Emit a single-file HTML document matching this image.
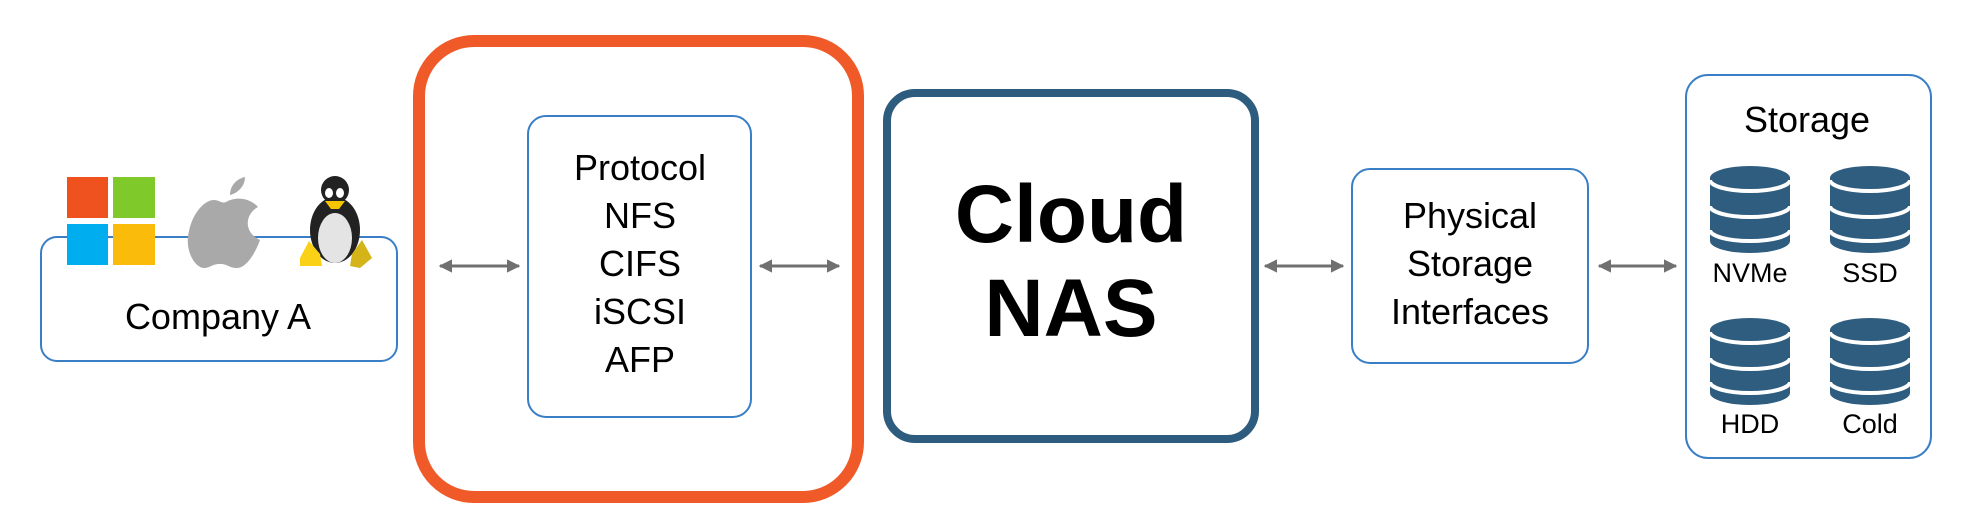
<!DOCTYPE html>
<html><head><meta charset="utf-8"><style>
html,body{margin:0;padding:0;background:#fff;}
svg{display:block}
text{font-family:"Liberation Sans",sans-serif;fill:#000}
</style></head><body>
<svg width="1971" height="532" viewBox="0 0 1971 532" xmlns="http://www.w3.org/2000/svg">
<defs>
<marker id="ah" viewBox="0 0 10 10" refX="9" refY="5" markerWidth="4.5" markerHeight="5" orient="auto-start-reverse"><path d="M0,0 L10,5 L0,10 z" fill="#707070"/></marker>
<g id="cyl">
<path d="M0,12 A40,12 0 0 1 80,12 L80,75 A40,12 0 0 1 0,75 Z" fill="#2f5d80"/>
<path d="M0,14 A40,11 0 0 0 80,14" fill="none" stroke="#fff" stroke-width="4"/>
<path d="M0,40 A40,11 0 0 0 80,40" fill="none" stroke="#fff" stroke-width="4"/>
<path d="M0,64 A40,11 0 0 0 80,64" fill="none" stroke="#fff" stroke-width="4"/>
</g>
</defs>

<!-- Company A -->
<rect x="41" y="237" width="356" height="124" rx="16" fill="#fff" stroke="#3a7fc6" stroke-width="2"/>
<rect x="67" y="177" width="41" height="41" fill="#f0521f"/>
<rect x="113" y="177" width="42" height="41" fill="#7fc92a"/>
<rect x="67" y="224" width="41" height="41" fill="#00adef"/>
<rect x="113" y="224" width="42" height="41" fill="#fbbb0b"/>
<!-- apple -->
<g fill="#a9a9a9">
<path d="M226,202 C236,196 250,198 258,207 C245,214 243,232 260,240 C255,254 246,268 237,268 C229,268 228,264 220,264 C212,264 210,268 204,268 C195,268 184,250 189,231 C193,212 205,200 214,200 C219,200 222,204 226,202 Z"/>
<path d="M230,195 C230,186 236,179 245,177 C245,186 238,193 230,195 Z"/>
</g>
<!-- tux -->
<g>
<ellipse cx="335" cy="230" rx="25" ry="33" fill="#222"/>
<ellipse cx="335" cy="190" rx="14" ry="14" fill="#222"/>
<ellipse cx="335" cy="238" rx="17" ry="25" fill="#e4e4e4"/>
<ellipse cx="329" cy="193" rx="4" ry="5" fill="#fff"/><ellipse cx="340" cy="193" rx="4" ry="5" fill="#fff"/>
<path d="M325,201 L345,201 L339,209 L331,209 Z" fill="#f6c500"/>
<path d="M300,258 L309,241 L320,254 L322,266 L300,266 Z" fill="#fbd117"/>
<path d="M352,254 L362,240 L372,258 L360,268 L350,266 Z" fill="#d4b418"/>
</g>
<text x="218" y="329" font-size="36" text-anchor="middle">Company A</text>

<!-- orange -->
<rect x="419" y="41" width="439" height="456" rx="55" fill="none" stroke="#f05a28" stroke-width="12"/>
<rect x="528" y="116" width="223" height="301" rx="18" fill="#fff" stroke="#3a7fc6" stroke-width="2"/>
<g font-size="36" text-anchor="middle">
<text x="640" y="180">Protocol</text>
<text x="640" y="228">NFS</text>
<text x="640" y="276">CIFS</text>
<text x="640" y="324">iSCSI</text>
<text x="640" y="372">AFP</text>
</g>

<!-- Cloud NAS -->
<rect x="887" y="93" width="368" height="346" rx="28" fill="#fff" stroke="#2d5c7f" stroke-width="8"/>
<g font-size="82" font-weight="bold" text-anchor="middle">
<text x="1071" y="242">Cloud</text>
<text x="1071" y="336">NAS</text>
</g>

<!-- Physical -->
<rect x="1352" y="169" width="236" height="194" rx="18" fill="#fff" stroke="#3a7fc6" stroke-width="2"/>
<g font-size="36" text-anchor="middle">
<text x="1470" y="228">Physical</text>
<text x="1470" y="276">Storage</text>
<text x="1470" y="324">Interfaces</text>
</g>

<!-- Storage -->
<rect x="1686" y="75" width="245" height="383" rx="22" fill="#fff" stroke="#3a7fc6" stroke-width="2"/>
<text x="1807" y="132" font-size="36" text-anchor="middle">Storage</text>
<use href="#cyl" x="1710" y="166"/>
<use href="#cyl" x="1830" y="166"/>
<use href="#cyl" x="1710" y="318"/>
<use href="#cyl" x="1830" y="318"/>
<g font-size="27" text-anchor="middle">
<text x="1750" y="282">NVMe</text>
<text x="1870" y="282">SSD</text>
<text x="1750" y="433">HDD</text>
<text x="1870" y="433">Cold</text>
</g>

<!-- arrows -->
<g stroke="#707070" stroke-width="3" marker-start="url(#ah)" marker-end="url(#ah)">
<line x1="440" y1="266" x2="519" y2="266"/>
<line x1="760" y1="266" x2="839" y2="266"/>
<line x1="1265" y1="266" x2="1343" y2="266"/>
<line x1="1599" y1="266" x2="1676" y2="266"/>
</g>
</svg>
</body></html>
